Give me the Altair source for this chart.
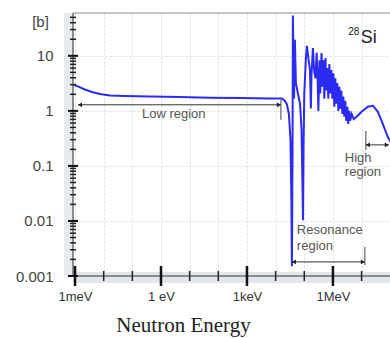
import altair as alt
import pandas as pd

# ---- data (energy in eV, cross-section in barns) ----
energy_ev = [8.5e-4, 1.26e-3, 2.2e-3, 3.9e-3, 7.4e-3, 1.66e-2, 5.5e-2, 0.41, 4.5, 51, 570, 6.3e3,
             1.66e4, 2.1e4, 2.5e4, 2.9e4, 3.3e4, 3.55e4, 3.7e4, 3.9e4, 4.0e4, 4.2e4, 4.4e4, 4.7e4,
             5.1e4, 6.0e4, 7.1e4, 8.0e4, 8.7e4, 9.0e4, 9.4e4, 1.0e5, 1.14e5, 1.23e5, 1.39e5, 1.58e5,
             1.7e5, 1.78e5, 2.0e5, 2.2e5, 2.45e5, 2.7e5, 2.9e5, 3.1e5, 3.4e5, 3.6e5, 4.0e5, 4.3e5,
             4.7e5, 5.0e5, 5.5e5, 5.9e5, 6.4e5, 6.9e5, 7.5e5, 8.1e5, 8.8e5, 9.5e5, 1.04e6, 1.12e6,
             1.21e6, 1.32e6, 1.42e6, 1.55e6, 1.67e6, 1.82e6, 1.96e6, 2.13e6, 2.3e6, 2.5e6, 2.7e6,
             2.9e6, 3.2e6, 3.4e6, 3.7e6, 4.0e6, 4.5e6, 5.3e6, 6.7e6, 1.0e7, 1.65e7, 2.5e7, 3.7e7,
             5.5e7, 8.3e7, 1.15e8]
sigma_b = [3.0, 2.78, 2.45, 2.2, 2.02, 1.90, 1.86, 1.82, 1.78, 1.74, 1.71, 1.67,
           1.67, 1.53, 1.29, 0.88, 0.31, 0.024, 0.0015, 0.2, 54, 9.1, 1.67, 19.5,
           3.2, 2.07, 1.35, 0.47, 0.037, 0.0103, 0.2, 2.07, 9.1, 15.2, 9.1, 5.5,
           1.1, 4.3, 13.8, 5.5, 3.9, 11.3, 4.3, 1.0, 8.3, 2.07, 11.3, 2.75,
           8.3, 1.67, 9.1, 2.35, 6.0, 1.67, 7.1, 2.07, 5.5, 1.67, 4.8, 1.19,
           3.9, 1.35, 3.2, 1.0, 2.75, 1.1, 2.35, 0.88, 1.82, 0.78, 1.53,
           0.66, 1.19, 0.58, 1.0, 0.66, 0.88, 0.71, 0.78, 0.96, 1.19, 1.24, 0.96,
           0.58, 0.33, 0.25]

x_decades = [1e-3, 1e-2, 1e-1, 1, 1e1, 1e2, 1e3, 1e4, 1e5, 1e6, 1e7]
x_major = [1e-3, 1, 1e3, 1e6]
x_major_exp = [-3, 0, 3, 6]
x_major_labels = ["1meV", "1 eV", "1keV", "1MeV"]
x_minor = [1e-2, 1e-1, 1e1, 1e2, 1e4, 1e5, 1e7]

y_decades = [0.001, 0.01, 0.1, 1, 10]
y_exp = [-3, -2, -1, 0, 1]
y_labels = ["0.001", "0.01", "0.1", "1", "10"]
y_minor = [0.002, 0.003, 0.004, 0.005, 0.006, 0.007, 0.008, 0.009,
           0.02, 0.03, 0.04, 0.05, 0.06, 0.07, 0.08, 0.09,
           0.2, 0.3, 0.4, 0.5, 0.6, 0.7, 0.8, 0.9,
           2, 3, 4, 5, 6, 7, 8, 9,
           20, 30, 40, 50]

# annotations (data coordinates)
ann_text = ["Low region", "Resonance", "region", "High", "region"]
ann_x = [0.217, 5.5e4, 5.5e4, 2.6e6, 2.6e6]
ann_y = [0.88, 0.00686, 0.00351, 0.14, 0.076]

arrow_y = [1.29, 0.0018, 0.241]
arrow_x1 = [1.27e-3, 3.7e4, 1.41e7]
arrow_x2 = [1.53e4, 1.3e7, 8.9e7]
bar_x = [1.53e4, 1.3e7, 1.41e7]
bar_y1 = [1.58, 0.00337, 0.43]
bar_y2 = [0.685, 0.00158, 0.195]

W, H = 317, 263
xs = alt.Scale(type="log", domain=[8.5e-4, 9.8e7], nice=False)
ys = alt.Scale(type="log", domain=[0.001, 60], nice=False)


def label_expr(exps, labels):
    expr = "''"
    for e, l in reversed(list(zip(exps, labels))):
        expr = f"abs(log(datum.value)/LN10 - ({e})) < 0.01 ? '{l}' : ({expr})"
    return expr


xaxis = alt.Axis(
    values=x_decades, labelExpr=label_expr(x_major_exp, x_major_labels),
    ticks=False, tickSize=0, domain=False, grid=True, gridColor="#dadada",
    gridDash=[2, 2], labelFont="Liberation Sans", labelFontSize=13,
    labelColor="#333", labelPadding=14, labelFlush=False,
    title="Neutron Energy", titleFont="Liberation Serif", titleFontSize=21,
    titleFontWeight="normal", titleColor="#222", titleX=110, titleY=49,
    titleAlign="center", titleBaseline="middle")
yaxis = alt.Axis(
    values=y_decades, labelExpr=label_expr(y_exp, y_labels),
    ticks=False, tickSize=0, domain=False, grid=True, gridColor="#dadada",
    gridDash=[2, 2], labelFont="Liberation Sans", labelFontSize=15,
    labelColor="#444", labelPadding=20, labelFlush=False,
    title="[b]", titleAngle=0, titleX=-33, titleY=8, titleAlign="center",
    titleBaseline="middle", titleFont="Liberation Sans", titleFontSize=15,
    titleFontWeight="normal", titleColor="#444")


def X(f):
    return alt.X(f, scale=xs, axis=xaxis)


def Y(f):
    return alt.Y(f, scale=ys, axis=yaxis)


df = pd.DataFrame({"E": energy_ev, "S": sigma_b, "i": range(len(energy_ev))})
one = pd.DataFrame({"a": [0]})

bands = alt.layer(
    alt.Chart(one).mark_rect(color="#e1e6ec").encode(
        x=alt.value(0), x2=alt.value(W), y=alt.value(H - 4), y2=alt.value(H + 7)),
    alt.Chart(one).mark_rect(color="#e6e9ee").encode(
        x=alt.value(-9), x2=alt.value(1), y=alt.value(0), y2=alt.value(H)),
)

line = alt.Chart(df).mark_line(color="#2b2bf2", strokeWidth=2, clip=True).encode(
    x=X("E:Q"), y=Y("S:Q"), order="i:Q")

frame = alt.layer(
    alt.Chart(one).mark_rule(color="#8c8c8c", strokeWidth=2).encode(
        x=alt.value(0), x2=alt.value(W), y=alt.value(H)),
    alt.Chart(one).mark_rule(color="#8c8c8c", strokeWidth=2).encode(
        x=alt.value(0), y=alt.value(0), y2=alt.value(H)),
    alt.Chart(one).mark_rule(color="#b5b5b5", strokeWidth=1.5).encode(
        x=alt.value(0), x2=alt.value(W), y=alt.value(0)),
)

xmaj = alt.Chart(pd.DataFrame({"E": x_major})).mark_rule(color="#111", strokeWidth=2.5).encode(
    x=X("E:Q"), y=alt.value(H - 10), y2=alt.value(H + 10))
xmin = alt.Chart(pd.DataFrame({"E": x_minor})).mark_rule(color="#222", strokeWidth=1.5).encode(
    x=X("E:Q"), y=alt.value(H - 5), y2=alt.value(H + 5))
ymaj = alt.Chart(pd.DataFrame({"S": y_decades})).mark_rule(color="#111", strokeWidth=2).encode(
    y=Y("S:Q"), x=alt.value(-5), x2=alt.value(5))
ymin = alt.Chart(pd.DataFrame({"S": y_minor})).mark_rule(color="#222", strokeWidth=1.5).encode(
    y=Y("S:Q"), x=alt.value(-3), x2=alt.value(3))

adf = pd.DataFrame({"E": arrow_x1, "x2": arrow_x2, "S": arrow_y})
arrows = alt.Chart(adf).mark_rule(color="#333", strokeWidth=1).encode(
    x=X("E:Q"), x2="x2:Q", y=Y("S:Q"))
heads_l = alt.Chart(adf).mark_point(shape="triangle-left", filled=True, color="#222",
                                    size=22, opacity=1, xOffset=2).encode(
    x=X("E:Q"), y=Y("S:Q"))
hdf = pd.DataFrame({"E": arrow_x2, "S": arrow_y})
heads_r = alt.Chart(hdf).mark_point(shape="triangle-right", filled=True, color="#222",
                                    size=22, opacity=1, xOffset=-2).encode(
    x=X("E:Q"), y=Y("S:Q"))
bdf = pd.DataFrame({"E": bar_x, "S": bar_y1, "y2": bar_y2})
bars = alt.Chart(bdf).mark_rule(color="#444", strokeWidth=1).encode(
    x=X("E:Q"), y=Y("S:Q"), y2="y2:Q")

tdf = pd.DataFrame({"E": ann_x, "S": ann_y, "t": ann_text})
texts = alt.Chart(tdf).mark_text(align="left", baseline="middle", font="Liberation Sans",
                                 fontSize=13, color="#555").encode(
    x=X("E:Q"), y=Y("S:Q"), text="t:N")

iso_mass = alt.Chart(pd.DataFrame({"E": [3.4e6], "S": [27.5], "t": ["28"]})).mark_text(
    align="left", baseline="middle", font="Liberation Sans", fontSize=10, color="#222").encode(
    x=X("E:Q"), y=Y("S:Q"), text="t:N")
iso_sym = alt.Chart(pd.DataFrame({"E": [9.4e6], "S": [20.8], "t": ["Si"]})).mark_text(
    align="left", baseline="middle", font="Liberation Sans", fontSize=18, color="#222").encode(
    x=X("E:Q"), y=Y("S:Q"), text="t:N")

chart = alt.layer(
    bands, line, frame, xmaj, xmin, ymaj, ymin, arrows, heads_l, heads_r, bars, texts,
    iso_mass, iso_sym,
).properties(
    width=W, height=H,
    autosize=alt.AutoSizeParams(type="none"),
    padding={"left": 73, "top": 13, "right": 0, "bottom": 62},
    background="white",
).configure_view(stroke=None)

chart.save("out.html", embed_options={"renderer": "svg", "actions": False})
